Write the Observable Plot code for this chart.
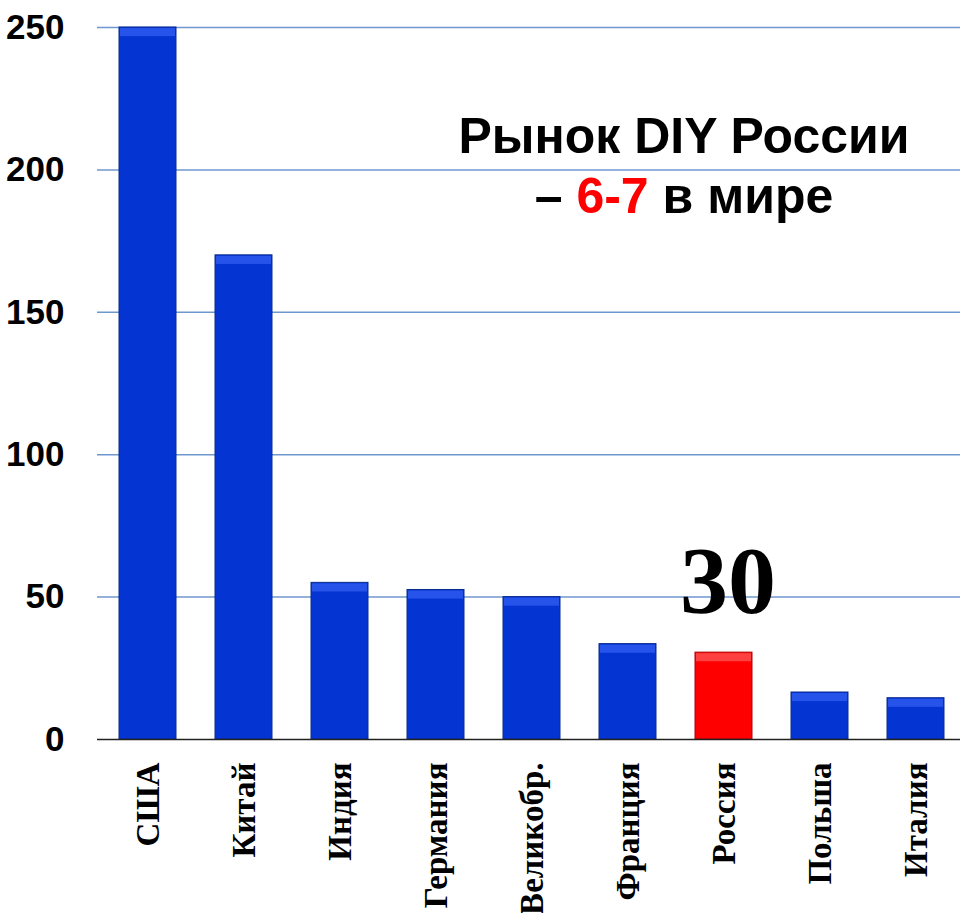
<!DOCTYPE html>
<html>
<head>
<meta charset="utf-8">
<script src="https://cdn.jsdelivr.net/npm/d3@7"></script>
<script src="https://cdn.jsdelivr.net/npm/@observablehq/plot@0.6"></script>
<style>
  html, body { margin: 0; padding: 0; background: #fff; }
  #wrap { position: relative; width: 960px; height: 913px; }
  #title { position: absolute; left: 406px; top: 106px; width: 556px; text-align: center;
    font-family: "Liberation Sans", Arial, sans-serif; font-weight: bold; font-size: 50px; line-height: 60px; color: #000; }
  #title .red { color: #ff0000; }
</style>
</head>
<body>
<div id="wrap">
  <div id="chart"></div>
  <div id="title">Рынок DIY России<br>– <span class="red">6-7</span> в мире</div>
</div>
<script>
const countries = ["США", "Китай", "Индия", "Германия", "Великобр.", "Франция", "Россия", "Польша", "Италия"];
const values = [250, 170, 55, 52.5, 50, 33.5, 30.5, 16.5, 14.5];
const yTicks = [0, 50, 100, 150, 200, 250];
const highlight = "Россия";
const highlightLabel = "30";

const data = countries.map((c, i) => ({c, v: values[i]}));
const blue = "#0434d2", red = "#ff0000";

const chart = Plot.plot({
  width: 960,
  height: 913,
  marginTop: 27,
  marginBottom: 174,
  marginLeft: 97,
  marginRight: 0,
  x: {domain: countries, range: [97, 966], paddingInner: 0.41, paddingOuter: 0.205, axis: null},
  y: {domain: [0, 250], axis: null},
  marks: [
    Plot.ruleY(yTicks.filter(t => t > 0), {stroke: "#6f97cf", strokeWidth: 1.5}),
    Plot.barY(data, {x: "c", y: "v", fill: d => d.c === highlight ? red : blue,
      stroke: d => d.c === highlight ? "#b00000" : "#0a2a8c", strokeWidth: 1}),
    Plot.barY(data, {x: "c", y1: d => d.v - 3.2, y2: "v", insetLeft: 1, insetRight: 1, insetTop: 1,
      fill: d => d.c === highlight ? "#ff4040" : "#2653ea"}),
    Plot.ruleY([0], {stroke: "#222", strokeWidth: 1.5}),
    Plot.axisY(yTicks, {tickSize: 0, tickPadding: 33, fontSize: 35, fontWeight: "bold",
      fontFamily: "Liberation Sans, Arial, sans-serif", fill: "#000", label: null}),
    Plot.axisX({tickSize: 0, tickRotate: -90, tickPadding: 23, fontSize: 33, fontWeight: "bold",
      fontFamily: "Liberation Serif, Times New Roman, serif", fill: "#000", label: null}),
    Plot.text(data.filter(d => d.c === highlight), {x: "c", y: "v", text: () => highlightLabel,
      dy: -40, dx: 4, lineAnchor: "bottom", fontSize: 96, fontWeight: "bold",
      fontFamily: "Liberation Serif, Times New Roman, serif", fill: "#000"})
  ],
  style: {background: "#fff", overflow: "visible"}
});
document.getElementById("chart").appendChild(chart);
</script>
</body>
</html>
